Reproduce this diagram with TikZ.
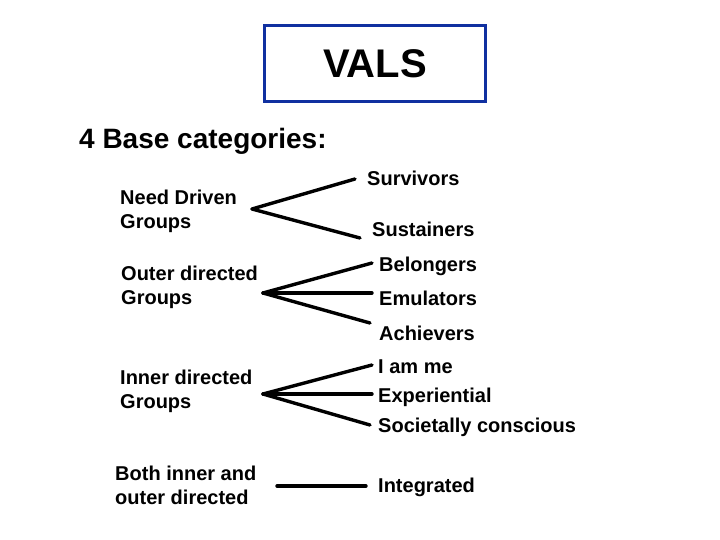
\documentclass[tikz,border=0pt]{standalone}
\usepackage{fontspec}
\setmainfont{Liberation Sans}
\usetikzlibrary{positioning}
\definecolor{valsC}{RGB}{16, 48, 160}
\tikzset{
  grp/.style  = {anchor=west, align=left, inner sep=0pt, font=\fontsize{20}{24}\selectfont\bfseries},
  seg/.style  = {anchor=west, inner sep=0pt, font=\fontsize{20}{24}\selectfont\bfseries},
  link/.style = {line width=3.4pt, line cap=round},
}

\begin{document}
\begin{tikzpicture}[x=1pt, y=-1pt]

\useasboundingbox (0,0) rectangle (720,540);

% ============================================================
%  Title and heading
% ============================================================

\node[draw=valsC, line width=2.8pt, minimum width=221pt, minimum height=76pt,
      font=\fontsize{40}{44}\selectfont\bfseries]
  (title) at (375, 63.5) {VALS};

\node[anchor=west, inner sep=0pt, font=\fontsize{28}{32}\selectfont\bfseries]
  (head) at (79, 141.5) {4 Base categories:};

% ============================================================
%  Group labels (left) and apex points
% ============================================================

\node[grp] (need)  at (120, 211)   {Need Driven\\Groups};
\node[grp] (outer) at (121, 287.5) {Outer directed\\Groups};
\node[grp] (inner) at (120, 391)   {Inner directed\\Groups};
\node[grp] (both)  at (115, 485.5) {Both inner and\\outer directed};

\coordinate (needT)  at (252, 209);
\coordinate (outerT) at (263, 293);
\coordinate (innerT) at (263, 394);
\coordinate (bothT)  at (277, 486);

% ============================================================
%  Segment labels (right)
% ============================================================

\node[seg] (surv) at (367, 178) {Survivors};
\node[seg] (sust) at (372, 229) {Sustainers};
\node[seg] (belo) at (379, 266) {Belongers};
\node[seg] (emul) at (379, 298) {Emulators};
\node[seg] (achi) at (379, 333) {Achievers};
\node[seg] (iam)  at (378, 367) {I am me};
\node[seg] (expe) at (378, 397) {Experiential};
\node[seg] (soci) at (378, 427) {Societally conscious};
\node[seg] (inte) at (378, 487) {Integrated};

% --- Connectors ---
\draw[link] (needT) -- ([xshift=-12pt, yshift=-1pt]surv.west);
\draw[link] (needT) -- ([xshift=-12pt, yshift=-9pt]sust.west);

\draw[link] (outerT) -- ([xshift=-7pt, yshift=3pt]belo.west);
\draw[link] (outerT) -- ([xshift=-7pt, yshift=5pt]emul.west);
\draw[link] (outerT) -- ([xshift=-9pt, yshift=10pt]achi.west);

\draw[link] (innerT) -- ([xshift=-6pt, yshift=2pt]iam.west);
\draw[link] (innerT) -- ([xshift=-6pt, yshift=3pt]expe.west);
\draw[link] (innerT) -- ([xshift=-8pt, yshift=2pt]soci.west);

\draw[link] (bothT) -- ([xshift=-12pt, yshift=1pt]inte.west);

\end{tikzpicture}
\end{document}
